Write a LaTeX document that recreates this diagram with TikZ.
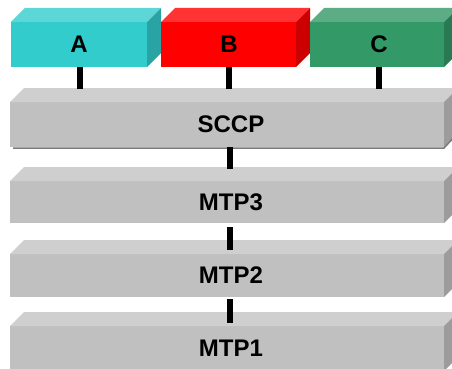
\documentclass[tikz,border=0pt]{standalone}
\usepackage{fontspec}
\setmainfont{Liberation Sans}

% face colours: F = front, T = top, S = right side
\definecolor{cyanF}{HTML}{33CCCC}
\definecolor{cyanT}{HTML}{5CD6D6}
\definecolor{cyanS}{HTML}{29A3A3}
\definecolor{redF}{HTML}{FF0000}
\definecolor{redT}{HTML}{FF3333}
\definecolor{redS}{HTML}{CC0000}
\definecolor{greenF}{HTML}{339966}
\definecolor{greenT}{HTML}{5CAD85}
\definecolor{greenS}{HTML}{297A52}
\definecolor{greyF}{HTML}{C0C0C0}
\definecolor{greyT}{HTML}{CFCFCF}
\definecolor{greyS}{HTML}{9C9C9C}
\definecolor{edgegrey}{HTML}{7A7A7A}

\tikzset{
  face/.style={inner sep=0pt, outer sep=0pt},
  lbl/.style={inner sep=0pt, font=\fontsize{24}{27}\selectfont\bfseries, text=black},
  link/.style={line width=6pt, black},
}

% \slab{name}{cx}{cy}{width}{height}{colour}{label x}{label}
\newcommand\slab[8]{%
  \node[face, fill=#6F, minimum width=#4pt, minimum height=#5pt] (#1) at (#2,#3) {};
  \fill[#6T] (#1.north west) -- ++(14,-14)
    -- ([shift={(14,-14)}]#1.north east) -- (#1.north east) -- cycle;
  \fill[#6S] (#1.north east) -- ([shift={(14,-14)}]#1.north east)
    -- ([shift={(14,-14)}]#1.south east) -- (#1.south east) -- cycle;
  \node[lbl] (#1-lbl) at (#7,#3) {#8};
}

\begin{document}
\begin{tikzpicture}[x=1pt,y=-1pt]
  \useasboundingbox (0,0) rectangle (452,369);
  \clip (0,0) rectangle (452,369);
  \fill[white] (0,0) rectangle (452,369);

  % user parts
  \slab{a}{79}{44.5}{136}{45}{cyan}{79}{A}
  \slab{b}{228.5}{44.5}{135}{45}{red}{229}{B}
  \slab{c}{377}{44.5}{134}{45}{green}{379}{C}

  % protocol layers
  \slab{sccp}{227}{124.5}{434}{45}{grey}{231}{SCCP}
  \draw[edgegrey, line width=1.5pt]
    ([shift={(3,1)}]sccp.south west) -- ([shift={(0,1)}]sccp.south east)
    -- ([shift={(13,-13)}]sccp.south east);
  \slab{mtp3}{227}{202}{434}{42}{grey}{231}{MTP3}
  \slab{mtp2}{227}{275.5}{434}{43}{grey}{231}{MTP2}
  \slab{mtp1}{227}{348.5}{434}{45}{grey}{231}{MTP1}

  % connectors
  \coordinate (spine) at (230,0);
  \draw[link, shorten >=13pt] ([xshift=1pt]a.south) -- ([xshift=1pt]a.south |- sccp.north);
  \draw[link, shorten >=13pt] ([xshift=0.5pt]b.south) -- ([xshift=0.5pt]b.south |- sccp.north);
  \draw[link, shorten >=13pt] ([xshift=2pt]c.south) -- ([xshift=2pt]c.south |- sccp.north);
  \draw[link, shorten >=12pt] (sccp.south -| spine) -- (mtp3.north -| spine);
  \draw[link, shorten <=4pt, shorten >=4pt] (mtp3.south -| spine) -- (mtp2.north -| spine);
  \draw[link, shorten <=2pt, shorten >=3pt] (mtp2.south -| spine) -- (mtp1.north -| spine);
\end{tikzpicture}
\end{document}
